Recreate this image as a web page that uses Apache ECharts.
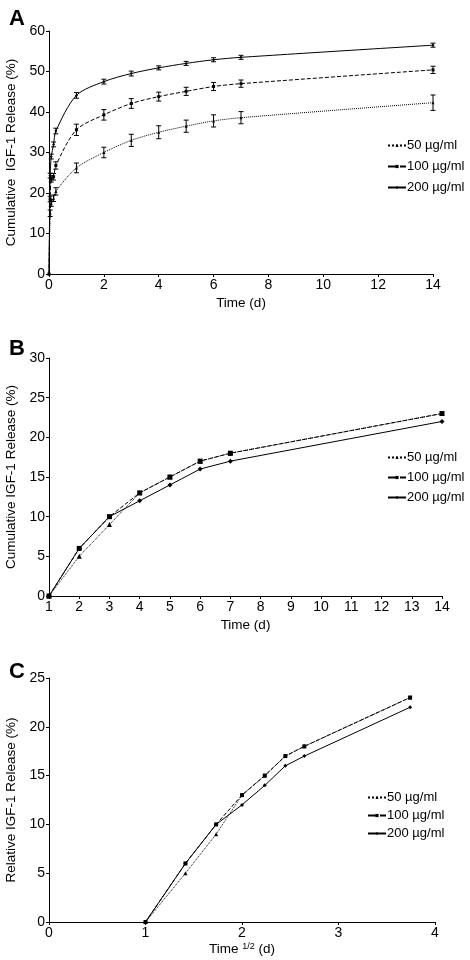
<!DOCTYPE html>
<html><head><meta charset="utf-8">
<script src="https://cdn.jsdelivr.net/npm/echarts@6/dist/echarts.min.js"></script>
<style>html,body{margin:0;padding:0;background:#fff}#c{width:470px;height:960px}</style>
</head><body><div id="c"></div>
<script>
// ---- Panel A data ----
const timeA = [0, 0.042, 0.083, 0.167, 0.25, 1, 2, 3, 4, 5, 6, 7, 14];
const a50  = [0, 15.0, 17.5, 18.7, 20.4, 26.2, 30.0, 33.0, 35.0, 36.5, 37.8, 38.6, 42.3];
const a100 = [0, 18.5, 23.5, 24.0, 26.8, 35.6, 39.3, 42.1, 43.8, 45.1, 46.3, 47.0, 50.4];
const a200 = [0, 24.3, 29.0, 32.0, 35.3, 44.1, 47.5, 49.5, 50.9, 52.0, 52.9, 53.5, 56.5];
const e50  = [0, 0.8, 0.8, 0.8, 0.9, 1.2, 1.3, 1.5, 1.6, 1.5, 1.5, 1.5, 1.9];
const e100 = [0, 0.7, 0.8, 0.8, 0.9, 1.4, 1.3, 1.2, 1.1, 1.0, 1.0, 0.9, 0.9];
const e200 = [0, 0.6, 0.6, 0.6, 0.7, 0.7, 0.6, 0.6, 0.5, 0.5, 0.5, 0.5, 0.5];
// ---- Panel B / C data ----
const timeB = [1, 2, 3, 4, 5, 6, 7, 14];
const sqrtTimeC = [1, 1.414, 1.732, 2, 2.236, 2.449, 2.646, 3.742];
const b50  = [0, 5, 9, 13, 15, 17, 18, 23];
const b100 = [0, 6, 10, 13, 15, 17, 18, 23];
const b200 = [0, 6, 10, 12, 14, 16, 17, 22];
const seriesNames = ['50 µg/ml', '100 µg/ml', '200 µg/ml'];

const FONT = 'Liberation Sans, Arial, sans-serif';
const pair = (xs, ys) => xs.map((x, i) => [x, ys[i]]);
const triple = (xs, ys, es) => xs.map((x, i) => [x, ys[i], es[i]]);

const styles = [
  {type: 'dotted', symbol: 'triangle'},
  {type: 'dashed', symbol: 'rect'},
  {type: 'solid', symbol: 'diamond'}
];

function lineSeries(idx, name, data, symSize, smooth) {
  const s = styles[seriesNames.indexOf(name)];
  return {
    type: 'line', name: name, xAxisIndex: idx, yAxisIndex: idx, data: data,
    symbol: s.symbol, symbolSize: symSize, showAllSymbol: true, smooth: smooth || false,
    itemStyle: {color: '#000'},
    lineStyle: {color: '#000', width: 1, type: s.type},
    animation: false, z: 3
  };
}
function errSeries(idx, data) {
  return {
    type: 'custom', xAxisIndex: idx, yAxisIndex: idx, data: data, encode: {x: 0, y: 1},
    animation: false, silent: true, z: 4,
    renderItem: function (params, api) {
      const x = api.value(0), y = api.value(1), e = api.value(2);
      if (!e) return null;
      const t = api.coord([x, y + e]), b = api.coord([x, y - e]);
      const w = 2.5, st = {stroke: '#000', lineWidth: 1};
      return {type: 'group', children: [
        {type: 'line', shape: {x1: t[0], y1: t[1], x2: b[0], y2: b[1]}, style: st},
        {type: 'line', shape: {x1: t[0]-w, y1: t[1], x2: t[0]+w, y2: t[1]}, style: st},
        {type: 'line', shape: {x1: b[0]-w, y1: b[1], x2: b[0]+w, y2: b[1]}, style: st}
      ]};
    }
  };
}

const axisCommon = {
  axisLine: {show: true, onZero: false, lineStyle: {color: '#000', width: 1}},
  axisTick: {show: true, length: 3, lineStyle: {color: '#000'}},
  axisLabel: {color: '#000', fontSize: 14, fontFamily: FONT, margin: 4},
  splitLine: {show: false},
  nameTextStyle: {color: '#000', fontSize: 13.5, fontFamily: FONT}
};
function xAx(idx, min, max, interval, name, gap, extra) {
  return Object.assign({}, axisCommon, {type: 'value', gridIndex: idx, min, max, interval,
    name, nameLocation: 'middle', nameGap: gap}, extra || {});
}
function yAx(idx, min, max, interval, name, gap) {
  return Object.assign({}, axisCommon, {type: 'value', gridIndex: idx, min, max, interval,
    name, nameLocation: 'middle', nameGap: gap});
}
function legend(top, left, gap) {
  return {data: seriesNames, orient: 'vertical', left: left, top: top, itemGap: gap, padding: 0,
    itemWidth: 18, itemHeight: 4,
    textStyle: {color: '#000', fontSize: 13, fontFamily: FONT, padding: [0, 0, 0, -4]}};
}
function grid(top, width, height) {
  return {left: 49, top: top, width: width, height: height, containLabel: false, outerBoundsMode: 'none'};
}

const chart = echarts.init(document.getElementById('c'), null, {renderer: 'canvas'});
chart.setOption({
  backgroundColor: '#fff',
  animation: false,
  title: [
    {text: 'A', left: 4, top: 3, textStyle: {fontSize: 22, fontWeight: 'bold', fontFamily: FONT, color: '#000'}},
    {text: 'B', left: 4, top: 333, textStyle: {fontSize: 22, fontWeight: 'bold', fontFamily: FONT, color: '#000'}},
    {text: 'C', left: 4, top: 656, textStyle: {fontSize: 22, fontWeight: 'bold', fontFamily: FONT, color: '#000'}}
  ],
  grid: [grid(31, 384, 243), grid(358, 393, 238), grid(678, 386, 244)],
  xAxis: [
    xAx(0, 0, 14, 2, 'Time (d)', 22),
    xAx(1, 1, 14, 1, 'Time (d)', 22),
    xAx(2, 0, 4, 1, 'Time {sup|1/2} (d)', 20, {nameTextStyle: {color: '#000', fontSize: 13.5, fontFamily: FONT,
      rich: {sup: {fontSize: 9, fontFamily: FONT, color: '#000', verticalAlign: 'top', padding: [0, 0, 6, 0]}}}})
  ],
  yAxis: [
    yAx(0, 0, 60, 10, 'Cumulative  IGF-1 Release (%)', 30),
    yAx(1, 0, 30, 5, 'Cumulative IGF-1 Release (%)', 30),
    yAx(2, 0, 25, 5, 'Relative IGF-1 Release (%)', 30)
  ],
  legend: [legend(139, 387, 8), legend(451, 387, 7), legend(791, 367, 5)],
  series: [
    lineSeries(0, seriesNames[0], pair(timeA, a50), 3, 0.3),
    lineSeries(0, seriesNames[1], pair(timeA, a100), 3, 0.3),
    lineSeries(0, seriesNames[2], pair(timeA, a200), 3, 0.3),
    errSeries(0, triple(timeA, a50, e50)),
    errSeries(0, triple(timeA, a100, e100)),
    errSeries(0, triple(timeA, a200, e200)),
    lineSeries(1, seriesNames[0], pair(timeB, b50), 5),
    lineSeries(1, seriesNames[1], pair(timeB, b100), 5),
    lineSeries(1, seriesNames[2], pair(timeB, b200), 5),
    lineSeries(2, seriesNames[0], pair(sqrtTimeC, b50), 4),
    lineSeries(2, seriesNames[1], pair(sqrtTimeC, b100), 4),
    lineSeries(2, seriesNames[2], pair(sqrtTimeC, b200), 4)
  ]
});
</script></body></html>
